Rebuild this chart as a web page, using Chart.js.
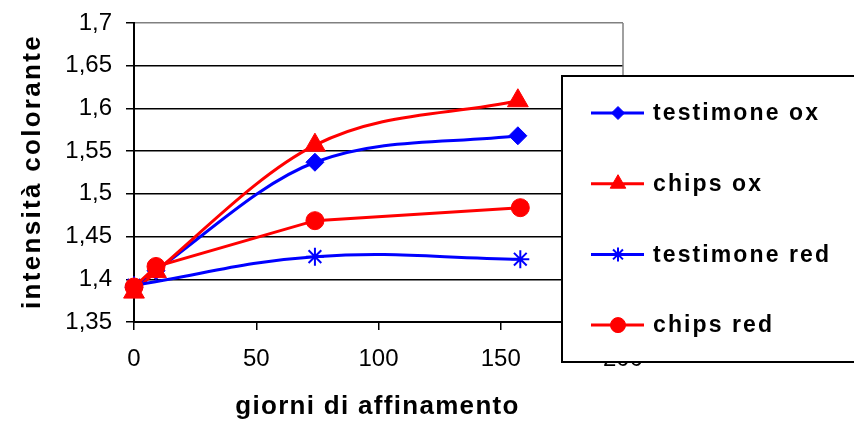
<!DOCTYPE html>
<html>
<head>
<meta charset="utf-8">
<script src="https://cdn.jsdelivr.net/npm/chart.js@4/dist/chart.umd.min.js"></script>
<style>
  html, body { margin: 0; padding: 0; background: #fff; }
  #wrap { width: 854px; height: 421px; }
</style>
</head>
<body>
<div id="wrap"><canvas id="c" width="854" height="421"></canvas></div>
<script>
// ---- data ----
const seriesLabels = ['testimone ox', 'chips ox', 'testimone red', 'chips red'];
const xTestOx  = [0, 9, 74, 157];
const yTestOx  = [1.39, 1.41, 1.537, 1.568];
const xChipsOx = [0, 9, 74, 157];
const yChipsOx = [1.385, 1.409, 1.557, 1.609];
const xTestRed = [0, 74, 158];
const yTestRed = [1.393, 1.4265, 1.4235];
const xChipsRed = [0, 9, 74, 158];
const yChipsRed = [1.391, 1.415, 1.4686, 1.4838];

const xTickValues = [0, 50, 100, 150, 200];
const xTickLabels = ['0', '50', '100', '150', '200'];
const yTickValues = [1.35, 1.4, 1.45, 1.5, 1.55, 1.6, 1.65, 1.7];
const yTickLabels = ['1,35', '1,4', '1,45', '1,5', '1,55', '1,6', '1,65', '1,7'];

const xTitle = 'giorni di affinamento';
const yTitle = 'intensità colorante';

// ---- build ----
const pts = (xs, ys) => xs.map((x, i) => ({ x: x, y: ys[i] }));
const BLUE = '#0000FF', RED = '#FF0000';
const FONT = "'Liberation Sans', Arial, sans-serif";

function ds(label, data, color, style, radius, bw, order, curve, fill) {
  return Object.assign({
    label: label, data: data, showLine: true,
    borderColor: color, backgroundColor: fill === false ? 'rgba(0,0,0,0)' : color,
    borderWidth: 3,
    pointStyle: style, pointRadius: radius, pointHoverRadius: radius,
    pointBorderWidth: bw, pointBorderColor: color,
    pointBackgroundColor: fill === false ? 'rgba(0,0,0,0)' : color,
    clip: false, order: order
  }, curve);
}

const datasets = [
  ds(seriesLabels[0], pts(xTestOx, yTestOx), BLUE, 'rectRot', 9, 1, 3, { cubicInterpolationMode: 'monotone', tension: 0.4 }),
  ds(seriesLabels[1], pts(xChipsOx, yChipsOx), RED, 'triangle', 12, 1, 2, { cubicInterpolationMode: 'monotone', tension: 0.4 }),
  ds(seriesLabels[2], pts(xTestRed, yTestRed), BLUE, 'star', 9, 2, 1, { tension: 0.4 }, false),
  ds(seriesLabels[3], pts(xChipsRed, yChipsRed), RED, 'circle', 9, 1, 0, { tension: 0 })
];
const legendRadius = [6.5, 9, 7, 7.5];

const decorPlugin = {
  id: 'decor',
  beforeDatasetsDraw(chart) {
    const { ctx, chartArea: a } = chart;
    ctx.save();
    ctx.strokeStyle = '#808080';
    ctx.lineWidth = 1.5;
    ctx.beginPath();
    ctx.moveTo(a.right, a.top);
    ctx.lineTo(a.right, a.bottom);
    ctx.stroke();
    ctx.restore();
  },
  afterDraw(chart) {
    const { ctx, chartArea: a } = chart;
    // axis titles
    ctx.save();
    ctx.fillStyle = '#000';
    ctx.font = 'bold 26px ' + FONT;
    ctx.textAlign = 'center';
    ctx.textBaseline = 'middle';
    ctx.letterSpacing = '1.3px';
    ctx.fillText(xTitle, (a.left + a.right) / 2 - 1, 407);
    ctx.translate(33, (a.top + a.bottom) / 2 - 1);
    ctx.rotate(-Math.PI / 2);
    ctx.letterSpacing = '2.3px';
    ctx.fillText(yTitle, 0, 0);
    ctx.restore();

    // legend box
    const bx = 562, by = 76, bw = 310, bh = 286;
    ctx.save();
    ctx.fillStyle = '#fff';
    ctx.fillRect(bx, by, bw, bh);
    ctx.strokeStyle = '#000';
    ctx.lineWidth = 2;
    ctx.strokeRect(bx, by, bw, bh);
    chart.data.datasets.forEach((d, i) => {
      const y = 113 + i * 70.7;
      ctx.strokeStyle = d.borderColor;
      ctx.lineWidth = 3;
      ctx.beginPath();
      ctx.moveTo(591, y);
      ctx.lineTo(644, y);
      ctx.stroke();
      ctx.fillStyle = d.pointBackgroundColor;
      ctx.strokeStyle = d.pointBorderColor;
      ctx.lineWidth = d.pointBorderWidth;
      Chart.helpers.drawPoint(ctx, { pointStyle: d.pointStyle, radius: legendRadius[i], rotation: 0, borderWidth: d.pointBorderWidth }, 618, y);
      ctx.fillStyle = '#000';
      ctx.font = 'bold 23px ' + FONT;
      ctx.textAlign = 'left';
      ctx.textBaseline = 'middle';
      ctx.letterSpacing = '2.1px';
      ctx.fillText(d.label, 653, y + 1);
      ctx.letterSpacing = '0px';
    });
    ctx.restore();
  }
};

new Chart(document.getElementById('c'), {
  type: 'scatter',
  data: { datasets: datasets },
  plugins: [decorPlugin],
  options: {
    responsive: false,
    animation: false,
    devicePixelRatio: 1,
    layout: { padding: { left: 0, right: 231, top: 23, bottom: 0 } },
    plugins: { legend: { display: false }, tooltip: { enabled: false } },
    scales: {
      x: {
        type: 'linear', min: 0, max: 200,
        afterBuildTicks: s => { s.ticks = xTickValues.map(v => ({ value: v })); },
        afterFit: s => { s.height = 99; },
        grid: { drawOnChartArea: false, drawTicks: true, tickLength: 8, color: '#000', lineWidth: 1.5 },
        border: { color: '#000', width: 2 },
        ticks: {
          padding: 15, color: '#000', font: { family: FONT, size: 24 },
          maxRotation: 0, autoSkip: false,
          callback: (v, i) => xTickLabels[i]
        }
      },
      y: {
        type: 'linear', min: 1.35, max: 1.7,
        afterBuildTicks: s => { s.ticks = yTickValues.map(v => ({ value: v })); },
        afterFit: s => { s.width = 134; },
        grid: {
          drawTicks: true, tickLength: 8, lineWidth: 1.5,
          color: c => (c.tick && Math.abs(c.tick.value - 1.7) < 1e-9) ? '#808080' : '#000',
          tickColor: '#000'
        },
        border: { color: '#000', width: 2 },
        ticks: {
          padding: 14, color: '#000', font: { family: FONT, size: 24, lineHeight: 0.6 },
          autoSkip: false,
          callback: (v, i) => yTickLabels[i]
        }
      }
    }
  }
});
</script>
</body>
</html>
